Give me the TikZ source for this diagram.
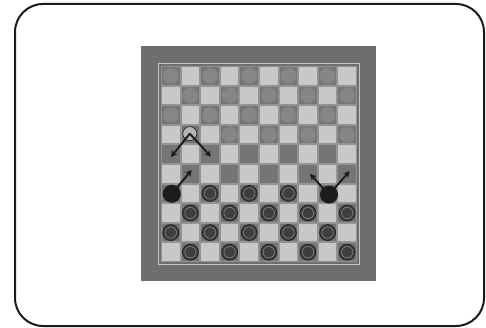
\documentclass[tikz,border=0pt]{standalone}
\usetikzlibrary{arrows.meta}
\definecolor{framecol}{HTML}{1A1A1A}
\definecolor{boardgray}{HTML}{6E6E6E}
\definecolor{edgegray}{HTML}{C4C4C4}
\definecolor{gapgray}{HTML}{939393}
\definecolor{darksq}{HTML}{757575}
\definecolor{lightsq}{HTML}{C8C8C8}
\definecolor{ghost}{HTML}{868686}
\definecolor{ghostedge}{HTML}{7C7C7C}
\definecolor{piece}{HTML}{3E3E3E}
\definecolor{ring}{HTML}{8E8E8E}
\definecolor{blackpiece}{HTML}{1C1C1C}
\tikzset{
  ghostpiece/.style={fill=ghost, draw=ghostedge, line width=0.6pt},
  darkpiece/.style={fill=piece, draw=framecol, line width=0.6pt},
  movepiece/.style={fill=blackpiece},
  emptypiece/.style={fill=lightsq!90!black, draw=framecol, line width=0.6pt},
  movearrow/.style={-{Stealth[length=6.5pt,width=6.5pt]}, line width=1.9pt, color=blackpiece}
}
\begin{document}
\begin{tikzpicture}[x=1pt,y=-1pt]
    % Размеры картинки
    \useasboundingbox (0,0) rectangle (486,328);

    % Рамка
    \draw[line width=2pt, rounded corners=28pt, color=framecol] (15,4) rectangle (484,326);

    % Доска
    \fill[boardgray] (141,46) rectangle (376,281);
    \draw[line width=1pt, color=edgegray] (158.5,63.5) rectangle (359.5,264.5);

    \begin{scope}[shift={(161,66)}, x=19.6pt, y=-19.6pt]
    % Клетки
    \fill[gapgray] (0,0) rectangle (10,10);
    \foreach \r in {0,...,9}
      \foreach \c in {0,...,9} {
        \pgfmathtruncatemacro\p{mod(\r+\c,2)}
        \ifnum\p=0
          \fill[darksq] (\c+0.05,\r+0.05) rectangle (\c+0.95,\r+0.95);
        \else
          \fill[lightsq] (\c+0.05,\r+0.05) rectangle (\c+0.95,\r+0.95);
        \fi
      }

    % Шашки сверху (бледные)
    \foreach \r in {0,...,3}
      \foreach \c in {0,...,9} {
        \pgfmathtruncatemacro\p{mod(\r+\c,2)+(\r==3)*(\c==1)}
        \ifnum\p=0
          \draw[ghostpiece] (\c+0.5,\r+0.5) circle (0.41);
        \fi
      }

    % Шашки снизу (тёмные)
    \foreach \r in {6,...,9}
      \foreach \c in {0,...,9} {
        \pgfmathtruncatemacro\p{mod(\r+\c,2)+(\r==6)*((\c==0)+(\c==8))}
        \ifnum\p=0
          \draw[darkpiece] (\c+0.5,\r+0.5) circle (0.41);
          \draw[ring, line width=0.5pt] (\c+0.5,\r+0.5) circle (0.29);
        \fi
      }

    % Координаты ходов
    \coordinate (W) at (1.47,3.45);   % пустая клетка
    \coordinate (WL) at (0.5,4.65);
    \coordinate (WR) at (2.55,4.63);
    \coordinate (BL) at (0.55,6.52);  % левая чёрная
    \coordinate (BLt) at (1.57,5.3);
    \coordinate (BR) at (8.57,6.56);  % правая чёрная
    \coordinate (BRl) at (7.6,5.5);
    \coordinate (BRr) at (9.63,5.36);

    % Шашки, которые ходят
    \draw[emptypiece] (W) circle (0.36);
    \fill[movepiece] (BL) circle (0.46);
    \fill[movepiece] (BR) circle (0.46);

    % Стрелки
    \draw[movearrow] (W) -- (WL);
    \draw[movearrow] (W) -- (WR);
    \draw[movearrow] (BL) -- (BLt);
    \draw[movearrow] (BR) -- (BRl);
    \draw[movearrow] (BR) -- (BRr);
    \end{scope}

\end{tikzpicture}
\end{document}
